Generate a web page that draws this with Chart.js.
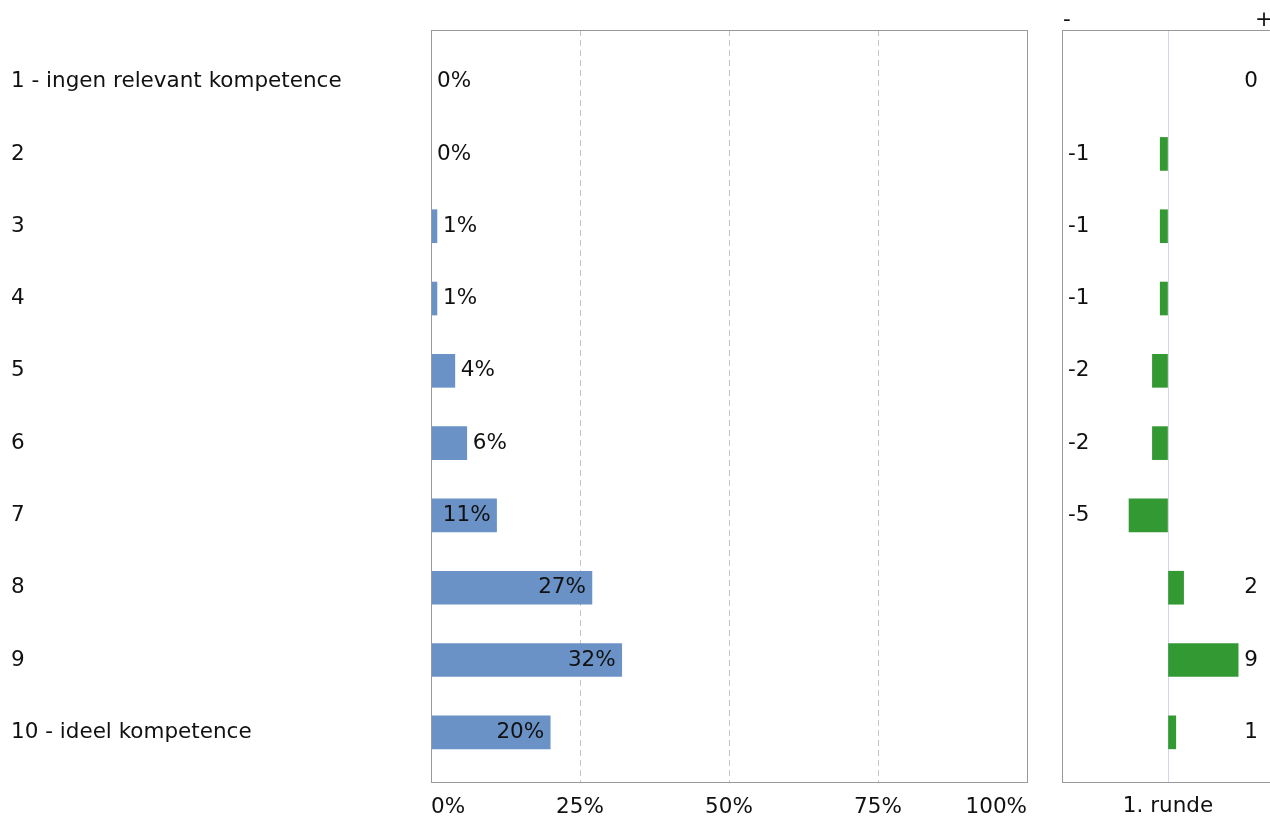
<!DOCTYPE html>
<html>
<head>
<meta charset="utf-8">
<script src="https://cdn.jsdelivr.net/npm/chart.js@4/dist/chart.umd.min.js"></script>
<style>
  html, body { margin: 0; padding: 0; background: #fff; overflow: hidden; }
  #wrap { position: relative; width: 1270px; height: 819px; }
  #mainChart { position: absolute; left: 0; top: 0; }
  #diffChart { position: absolute; left: 1040px; top: 0; }
</style>
</head>
<body>
<div id="wrap">
  <canvas id="mainChart" width="1040" height="819"></canvas>
  <canvas id="diffChart" width="260" height="819"></canvas>
</div>
<script>
// data
const categories = ['1 - ingen relevant kompetence', '2', '3', '4', '5', '6', '7', '8', '9', '10 - ideel kompetence'];
const shares = [0, 0, 1, 1, 4, 6, 11, 27, 32, 20];      // procent
const changes = [0, -1, -1, -1, -2, -2, -5, 2, 9, 1];   // ændring ift. 1. runde
const pctTicks = [0, 25, 50, 75, 100];
const roundLabel = '1. runde';

const FONT = '"DejaVu Sans", Verdana, sans-serif';
const FSIZE = 21.5;
Chart.defaults.font.family = FONT;
Chart.defaults.font.size = FSIZE;
Chart.defaults.color = '#111';

const rowMin = -0.714, rowMax = 9.687;   // kategori-akse som lineær skala

// grå ramme rundt om plotområdet
const frame = {
  id: 'frame',
  afterDraw(chart) {
    const {ctx, chartArea: a} = chart;
    ctx.save();
    ctx.strokeStyle = '#999';
    ctx.lineWidth = 1;
    ctx.strokeRect(Math.round(a.left) + 0.5, Math.round(a.top) + 0.5,
      Math.round(a.right - a.left), Math.round(a.bottom - a.top));
    ctx.restore();
  }
};

// procent-labels ved søjlerne
const shareLabels = {
  id: 'shareLabels',
  afterDatasetsDraw(chart) {
    const ctx = chart.ctx;
    const meta = chart.getDatasetMeta(0);
    ctx.save();
    ctx.font = FSIZE + 'px ' + FONT;
    ctx.fillStyle = '#111';
    ctx.textBaseline = 'middle';
    meta.data.forEach((bar, i) => {
      const txt = shares[i] + '%';
      const w = ctx.measureText(txt).width;
      if (bar.x - bar.base > w + 12) {
        ctx.textAlign = 'right';
        ctx.fillText(txt, bar.x - 6, bar.y);
      } else {
        ctx.textAlign = 'left';
        ctx.fillText(txt, bar.x + 6, bar.y);
      }
    });
    ctx.restore();
  }
};

new Chart(document.getElementById('mainChart'), {
  type: 'bar',
  data: {
    datasets: [{
      data: shares.map((v, i) => ({x: v, y: i})),
      backgroundColor: c => (c.raw && c.raw.x === 0) ? 'rgba(0,0,0,0)' : '#6a92c6',
      borderWidth: 0,
      barThickness: 33
    }]
  },
  options: {
    responsive: false,
    animation: false,
    indexAxis: 'y',
    layout: {padding: {left: 11, right: 12, top: 30, bottom: 0}},
    plugins: {legend: {display: false}, tooltip: {enabled: false}},
    scales: {
      x: {
        type: 'linear', min: 0, max: 100,
        afterBuildTicks: s => { s.ticks = pctTicks.map(v => ({value: v})); },
        afterFit: s => { s.height = 37; },
        grid: {
          drawTicks: false,
          color: c => (c.tick && (c.tick.value === 0 || c.tick.value === 100)) ? 'rgba(0,0,0,0)' : '#c4c4c4',
          lineWidth: 1
        },
        border: {display: false, dash: [6, 4]},
        ticks: {align: 'inner', padding: 13, maxRotation: 0, callback: v => v + '%'}
      },
      y: {
        type: 'linear', reverse: true, min: rowMin, max: rowMax, offset: false,
        afterBuildTicks: s => { s.ticks = categories.map((c, i) => ({value: i})); },
        afterFit: s => { s.width = 420; },
        border: {display: false},
        grid: {display: false, drawTicks: false, offset: false},
        ticks: {crossAlign: 'far', padding: 0, autoSkip: false, callback: v => categories[v]}
      }
    }
  },
  plugins: [frame, shareLabels]
});

// ændrings-labels og +/- overskrift
const changeLabels = {
  id: 'changeLabels',
  afterDatasetsDraw(chart) {
    const {ctx, chartArea: a} = chart;
    const meta = chart.getDatasetMeta(0);
    ctx.save();
    ctx.font = FSIZE + 'px ' + FONT;
    ctx.fillStyle = '#111';
    ctx.textBaseline = 'middle';
    meta.data.forEach((bar, i) => {
      const v = changes[i];
      if (v < 0) {
        ctx.textAlign = 'left';
        ctx.fillText(String(v), a.left + 6, bar.y);
      } else {
        ctx.textAlign = 'right';
        ctx.fillText(String(v), a.right - 16, bar.y);
      }
    });
    ctx.textAlign = 'left';
    ctx.fillText('-', a.left + 1, a.top - 10);
    ctx.textAlign = 'right';
    ctx.fillText('+', a.right - 1, a.top - 10);
    ctx.restore();
  }
};

new Chart(document.getElementById('diffChart'), {
  type: 'bar',
  data: {
    datasets: [{
      data: changes.map((v, i) => ({x: v, y: i})),
      backgroundColor: c => (c.raw && c.raw.x === 0) ? 'rgba(0,0,0,0)' : '#339933',
      borderWidth: 0,
      barThickness: 33
    }]
  },
  options: {
    responsive: false,
    animation: false,
    indexAxis: 'y',
    layout: {padding: {left: 22, right: 26, top: 30, bottom: 0}},
    plugins: {legend: {display: false}, tooltip: {enabled: false}},
    scales: {
      x: {
        type: 'linear', min: -13.6, max: 13.6,
        afterBuildTicks: s => { s.ticks = [{value: 0}]; },
        afterFit: s => { s.height = 37; },
        border: {display: false},
        grid: {drawTicks: false, color: '#d4d4f0', lineWidth: 1},
        ticks: {display: false},
        title: {display: true, text: roundLabel, padding: {top: 0, bottom: 0}}
      },
      y: {
        type: 'linear', reverse: true, min: rowMin, max: rowMax, offset: false, display: false
      }
    }
  },
  plugins: [frame, changeLabels]
});
</script>
</body>
</html>
